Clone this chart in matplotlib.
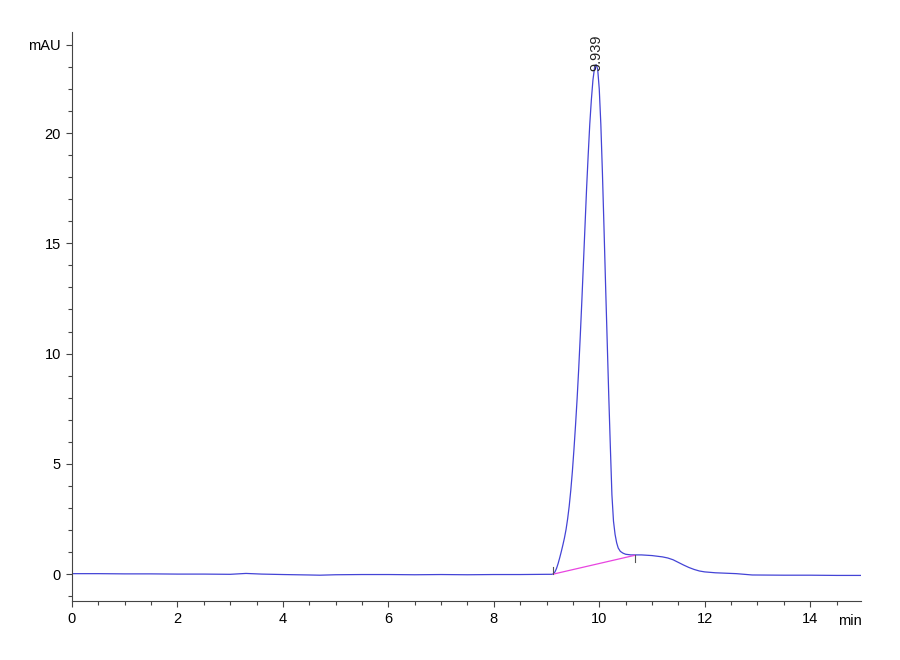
import matplotlib
matplotlib.use("Agg")
import matplotlib.pyplot as plt
from matplotlib.ticker import MultipleLocator

plt.rcParams['font.family'] = ['Liberation Sans Narrow', 'Liberation Sans', 'DejaVu Sans']

# chromatogram trace (time in min, signal in mAU)
time_min = [0.0, 0.5, 1.0, 1.5, 2.0, 2.5, 3.0, 3.3, 3.6, 4.0, 4.5, 4.7, 5.0, 5.5,
            6.0, 6.5, 7.0, 7.5, 8.0, 8.5, 9.0, 9.10, 9.13, 9.16, 9.19, 9.22,
            9.25, 9.28, 9.31, 9.34, 9.37, 9.40, 9.43, 9.46, 9.49, 9.52, 9.55,
            9.58, 9.61, 9.64, 9.67, 9.70, 9.73, 9.76, 9.79, 9.82, 9.85, 9.88,
            9.91, 9.94, 9.97, 10.00, 10.03, 10.06, 10.09, 10.12, 10.15, 10.18,
            10.21, 10.24, 10.27, 10.30, 10.33, 10.36, 10.40, 10.45, 10.50,
            10.6, 10.8, 11.0, 11.2, 11.3, 11.4, 11.5, 11.6, 11.7, 11.8, 11.9,
            12.0, 12.2, 12.6, 12.9, 13.5, 14.0, 14.5, 14.97]
signal_mau = [0.02, 0.02, 0.01, 0.01, 0.0, 0.0, -0.01, 0.03, 0.0, -0.02, -0.04,
              -0.05, -0.03, -0.02, -0.02, -0.03, -0.02, -0.03, -0.02, -0.02,
              -0.01, -0.01, 0.01, 0.10, 0.26, 0.48, 0.74, 1.02, 1.32, 1.64,
              2.02, 2.50, 3.08, 3.80, 4.65, 5.65, 6.75, 7.95, 9.30, 10.8, 12.4,
              14.1, 15.8, 17.5, 19.0, 20.4, 21.5, 22.4, 22.95, 23.1, 22.9, 22.0,
              20.4, 18.2, 15.7, 13.1, 10.6, 8.1, 5.8, 3.6, 2.4, 1.8, 1.42, 1.18,
              1.03, 0.95, 0.90, 0.87, 0.87, 0.84, 0.78, 0.73, 0.65, 0.53, 0.41,
              0.30, 0.21, 0.14, 0.10, 0.06, 0.02, -0.04, -0.05, -0.05, -0.06,
              -0.06]

# integration baseline of the main peak
base_time = [9.13, 10.67]
base_mau = [0.0, 0.85]

peak_rt = 9.939
peak_height = 23.1

fig = plt.figure(figsize=(9, 6.6), dpi=100)
ax = fig.add_axes([0.08, 0.0894, 0.877, 0.862])

ax.plot(time_min, signal_mau, color='#4444d6', lw=0.9)
ax.plot(base_time, base_mau, color='#e845e0', lw=0.9)
# start / end markers of the integration
ax.plot([base_time[0], base_time[0]], [base_mau[0], base_mau[0] + 0.3], color='#555555', lw=0.8)
ax.plot([base_time[1], base_time[1]], [base_mau[1], base_mau[1] - 0.3], color='#555555', lw=0.8)

ax.text(peak_rt, peak_height - 0.3, f"{peak_rt:.3f}", rotation=90, ha='center', va='bottom',
        fontsize=10.5, color='#222222')

ax.set_xlim(0, 14.97)
ax.set_ylim(-1.22, 24.58)

ax.set_xticks([0, 2, 4, 6, 8, 10, 12, 14])
ax.xaxis.set_minor_locator(MultipleLocator(0.5))
ax.set_yticks([0, 5, 10, 15, 20, 24])
ax.set_yticklabels(['0', '5', '10', '15', '20', 'mAU'])
ax.yaxis.set_minor_locator(MultipleLocator(1))

ax.tick_params(which='major', length=4.5, width=0.8, color='#444444', labelsize=10.5)
ax.tick_params(which='minor', length=3, width=0.8, color='#444444')
ax.text(1.0, -0.022, 'min', transform=ax.transAxes, ha='right', va='top', fontsize=10.5)

for s in ['top', 'right']:
    ax.spines[s].set_visible(False)
for s in ['left', 'bottom']:
    ax.spines[s].set_color('#444444')
    ax.spines[s].set_linewidth(0.8)

fig.savefig('out.png', dpi=100)
